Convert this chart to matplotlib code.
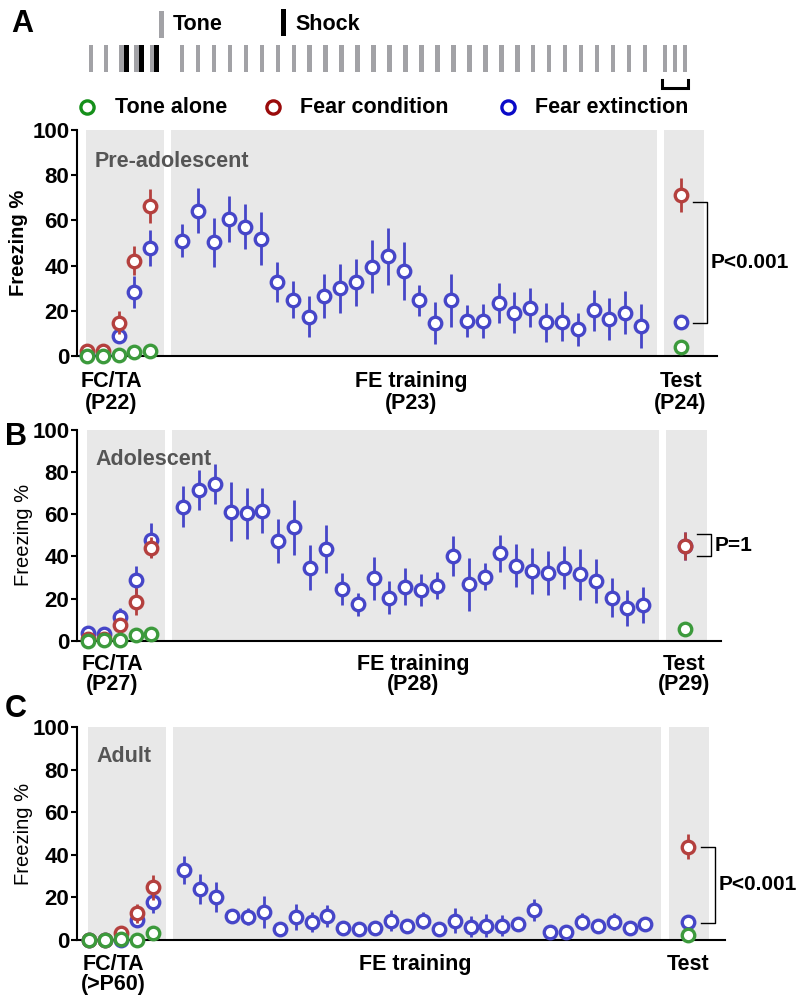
import numpy as np
import matplotlib
matplotlib.use('Agg')
import matplotlib.pyplot as plt

plt.rcParams['font.family'] = ['Liberation Sans', 'DejaVu Sans']

# ---------------------------------------------------------------------------
# Style
# ---------------------------------------------------------------------------
BLUE = '#4646c8'
RED = '#b4403e'
GREEN = '#3c9a3c'
BG_GREY = '#e8e8e8'
TONE_GREY = '#a2a2a6'
GROUP_GREY = '#555555'
FS = 15.5

# ---------------------------------------------------------------------------
# Data (freezing %, mean and SEM)
# ---------------------------------------------------------------------------
FC_X = [0, 1, 2, 3, 4]            # fear conditioning / tone alone trials
FE_X = list(range(6, 36))         # 30 extinction trials

# Panel A, pre-adolescent
A_FC_RED = [2.0, 2.0, 14.7, 42.2, 66.4]
A_FC_RED_ERR = [0.5, 0.5, 5.0, 6.5, 7.4]
A_FC_BLUE = [0.3, 0.3, 8.8, 28.2, 47.9]
A_FC_BLUE_ERR = [0.0, 0.0, 2.0, 7.0, 8.0]
A_FC_GREEN = [0.0, 0.0, 0.4, 1.6, 2.4]
A_FE = [51.0, 64.3, 50.3, 60.6, 57.2, 51.9, 32.7, 24.8, 17.4, 26.5,
        29.9, 32.6, 39.5, 44.2, 37.6, 24.6, 14.7, 24.6, 15.5, 15.5,
        23.5, 19.2, 21.4, 14.9, 15.2, 11.8, 20.2, 16.4, 19.2, 13.3]
A_FE_ERR = [7.4, 10.0, 10.7, 10.0, 10.0, 11.8, 9.0, 8.2, 9.0, 9.8,
            10.9, 10.5, 11.7, 12.6, 12.9, 7.0, 9.4, 11.6, 7.0, 7.5,
            9.0, 9.2, 8.6, 8.6, 8.6, 7.3, 9.2, 9.4, 9.6, 9.8]
A_TEST = {'red': (71.2, 7.4), 'blue': (15.2, 1.0), 'green': (4.1, 0.0)}

# Panel B, adolescent
B_FC_RED = [1.0, 0.6, 7.4, 18.5, 44.1]
B_FC_RED_ERR = [0.5, 0.5, 3.5, 6.3, 5.0]
B_FC_BLUE = [3.5, 3.0, 11.4, 28.8, 47.8]
B_FC_BLUE_ERR = [0.5, 0.5, 4.0, 6.6, 8.0]
B_FC_GREEN = [0.0, 0.3, 0.3, 2.7, 3.0]
B_FE = [63.6, 71.5, 74.2, 61.2, 60.4, 61.6, 47.3, 53.8, 34.7, 43.5,
        24.4, 17.2, 29.6, 20.4, 25.6, 24.1, 26.1, 40.2, 26.7, 30.4,
        41.5, 35.6, 33.1, 32.0, 34.7, 31.5, 28.3, 20.4, 15.7, 16.9]
B_FE_ERR = [9.6, 9.5, 9.5, 13.9, 11.9, 10.7, 10.5, 13.0, 10.8, 11.2,
            7.5, 5.5, 10.3, 7.9, 8.7, 7.5, 6.5, 9.6, 12.4, 6.3,
            8.9, 10.2, 11.1, 10.4, 10.1, 12.0, 10.4, 9.3, 8.5, 8.5]
B_TEST = {'red': (45.1, 6.7), 'blue': (45.0, 6.7), 'green': (5.4, 0.0)}

# Panel C, adult
C_FC_RED = [0.0, 0.0, 3.1, 12.5, 24.7]
C_FC_RED_ERR = [0.0, 0.0, 2.0, 4.3, 5.7]
C_FC_BLUE = [0.0, 0.0, 0.0, 9.4, 18.0]
C_FC_BLUE_ERR = [0.0, 0.0, 0.0, 2.0, 5.3]
C_FC_GREEN = [0.0, 0.0, 0.3, 0.0, 3.1]
C_FE = [32.8, 23.8, 20.0, 11.3, 10.9, 13.3, 5.0, 10.9, 8.6, 11.3,
        5.5, 5.3, 5.8, 9.1, 6.6, 9.1, 5.0, 9.1, 6.3, 6.7,
        6.7, 7.3, 14.1, 3.6, 3.6, 8.6, 6.7, 8.6, 5.5, 7.3]
C_FE_ERR = [6.7, 7.0, 7.0, 1.5, 4.0, 7.5, 1.0, 6.0, 4.7, 5.0,
            1.0, 1.0, 1.0, 5.0, 1.0, 4.0, 1.0, 6.0, 5.0, 5.5,
            5.0, 1.5, 5.3, 1.0, 1.0, 4.0, 1.5, 4.0, 1.0, 1.5]
C_TEST = {'red': (43.8, 6.0), 'blue': (8.3, 1.0), 'green': (2.3, 0.0)}

# comparison brackets: (red end, blue end, label)
A_STAT = (68.3, 14.7, 'P<0.001')
B_STAT = (50.6, 40.2, 'P=1')
C_STAT = (43.8, 8.1, 'P<0.001')

GROUP_NAMES = ['Pre-adolescent', 'Adolescent', 'Adult']
DAY_LABELS = [('(P22)', '(P23)', '(P24)'),
              ('(P27)', '(P28)', '(P29)'),
              ('(>P60)', '', '')]

LEGEND_NAMES = ['Tone alone', 'Fear condition', 'Fear extinction']
LEGEND_COLORS = ['#15901a', '#9a0a0a', '#0a0ac8']

N_FC_TONES, N_SHOCKS, N_FE_TONES, N_TEST_TONES = 5, 3, 30, 3


def errpts(ax, x, y, e, color, z):
    ax.errorbar(x, y, yerr=e, fmt='o', color=color, ecolor=color,
                mfc='white', mec=color, ms=9.0, mew=2.4, elinewidth=2.0,
                capsize=0, clip_on=False, zorder=z)


def draw_panel(ax, fc_red, fc_red_err, fc_blue, fc_blue_err, fc_green,
               fe, fe_err, test, stat, test_x, xlim, group, days, first):
    ax.set_facecolor('none')
    # shaded phases
    for x0, x1 in [(-0.08, 4.85), (5.3, 36.0), (36.45, 39.0)]:
        ax.axvspan(x0, x1, ymin=0, ymax=1, color=BG_GREY, lw=0, zorder=0)

    errpts(ax, FC_X, fc_blue, fc_blue_err, BLUE, 3)
    errpts(ax, FE_X, fe, fe_err, BLUE, 3)
    errpts(ax, [test_x], [test['blue'][0]], [test['blue'][1]], BLUE, 3)
    errpts(ax, FC_X, fc_red, fc_red_err, RED, 4)
    errpts(ax, [test_x], [test['red'][0]], [test['red'][1]], RED, 4)
    errpts(ax, FC_X, fc_green, [0] * len(FC_X), GREEN, 5)
    errpts(ax, [test_x], [test['green'][0]], [0], GREEN, 5)

    # bracket
    top, bot, label = stat
    bx0, bx1 = test_x + 0.8, test_x + 1.65
    ax.plot([bx0, bx1, bx1, bx0], [top, top, bot, bot], color='black',
            lw=1.0, clip_on=False, zorder=6)
    ax.text(bx1 + 0.25, (top + bot) / 2, label, fontsize=15,
            fontweight='bold', ha='left', va='center', clip_on=False)

    ax.text(0.5, 86, group, fontsize=FS, fontweight='bold', color=GROUP_GREY,
            ha='left', va='center', zorder=7)

    ax.set_xlim(*xlim)
    ax.set_ylim(0, 100)
    ax.set_yticks([0, 20, 40, 60, 80, 100])
    ax.set_xticks([])
    for lab in ax.get_yticklabels():
        lab.set_fontweight('bold')
    ax.tick_params(axis='y', labelsize=16, direction='out', length=4,
                   width=1.5, pad=1.5)
    ax.spines['top'].set_visible(False)
    ax.spines['right'].set_visible(False)
    ax.spines['left'].set_linewidth(1.5)
    ax.spines['bottom'].set_linewidth(1.5)
    ax.set_ylabel('Freezing %', fontsize=14.5,
                  fontweight='bold' if first else 'normal')
    ax.yaxis.set_label_coords(-0.077 if first else -0.068, 0.5)

    tr = ax.get_xaxis_transform()
    ax.text(1.55, -0.115, 'FC/TA', transform=tr, fontsize=FS,
            fontweight='bold', ha='center', va='center')
    ax.text(20.5, -0.115, 'FE training', transform=tr, fontsize=FS,
            fontweight='bold', ha='center', va='center')
    ax.text(test_x, -0.115, 'Test', transform=tr, fontsize=FS,
            fontweight='bold', ha='center', va='center')
    for xx, s in zip([1.55, 20.5, test_x], days):
        if s:
            ax.text(xx, -0.21, s, transform=tr, fontsize=FS,
                    fontweight='bold', ha='center', va='center')


fig = plt.figure(figsize=(8.0, 10.05), dpi=100)

W, H = 800.0, 1005.0
ax_a = fig.add_axes([77 / W, 1 - 356 / H, 640 / W, 226 / H])
ax_b = fig.add_axes([77 / W, 1 - 640.7 / H, 644 / W, 210.7 / H])
ax_c = fig.add_axes([77 / W, 1 - 940 / H, 648 / W, 213 / H])

draw_panel(ax_a, A_FC_RED, A_FC_RED_ERR, A_FC_BLUE, A_FC_BLUE_ERR, A_FC_GREEN,
           A_FE, A_FE_ERR, A_TEST, A_STAT, 37.5, (-0.63, 39.8),
           GROUP_NAMES[0], DAY_LABELS[0], True)
draw_panel(ax_b, B_FC_RED, B_FC_RED_ERR, B_FC_BLUE, B_FC_BLUE_ERR, B_FC_GREEN,
           B_FE, B_FE_ERR, B_TEST, B_STAT, 37.6, (-0.69, 39.9),
           GROUP_NAMES[1], DAY_LABELS[1], False)
draw_panel(ax_c, C_FC_RED, C_FC_RED_ERR, C_FC_BLUE, C_FC_BLUE_ERR, C_FC_GREEN,
           C_FE, C_FE_ERR, C_TEST, C_STAT, 37.7, (-0.75, 40.0),
           GROUP_NAMES[2], DAY_LABELS[2], False)

# ---------------------------------------------------------------------------
# Protocol schematic + legend (pixel coordinates overlay)
# ---------------------------------------------------------------------------
ov = fig.add_axes([0, 0, 1, 1])
ov.set_xlim(0, W)
ov.set_ylim(H, 0)
ov.axis('off')

fc_x = 91 + 15.2 * np.arange(N_FC_TONES)
fe_x = np.linspace(182, 645, N_FE_TONES)
test_x = np.linspace(665, 685, N_TEST_TONES)
tone_x = np.concatenate([fc_x, fe_x, test_x])
ov.bar(tone_x, 27, bottom=45, width=4.5, color=TONE_GREY, lw=0)
ov.bar(fc_x[-N_SHOCKS:] + 5, 27, bottom=45, width=5, color='black', lw=0)
ov.plot([662, 662, 688, 688], [80, 88, 88, 80], color='black', lw=2.2,
        solid_joinstyle='miter')

ov.bar([161], 27, bottom=11, width=5, color=TONE_GREY, lw=0)
ov.text(173, 24, 'Tone', fontsize=FS, fontweight='bold', va='center')
ov.bar([283], 27, bottom=9, width=5, color='black', lw=0)
ov.text(295, 24, 'Shock', fontsize=FS, fontweight='bold', va='center')

for mx, tx, name, col in zip([87, 273, 508], [115, 300, 535],
                             LEGEND_NAMES, LEGEND_COLORS):
    ov.plot([mx], [107], 'o', mfc='white', mec=col, ms=9.5, mew=2.4)
    ov.text(tx, 107, name, fontsize=FS, fontweight='bold', va='center')

for letter, lx, ly in [('A', 22, 24), ('B', 16, 437), ('C', 16, 709)]:
    ov.text(lx, ly, letter, fontsize=22, fontweight='bold',
            ha='center', va='center')

fig.savefig('out.png', dpi=100)
